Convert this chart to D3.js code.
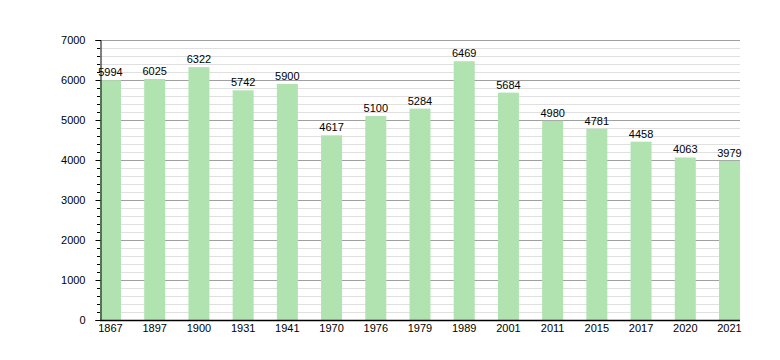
<!DOCTYPE html>
<html><head><meta charset="utf-8">
<script src="https://cdn.jsdelivr.net/npm/d3@7"></script>
<style>body{margin:0;background:#fff}svg{display:block}text{font-family:"Liberation Sans",Arial,sans-serif;font-size:11px;fill:#000}</style>
</head><body><svg id="c" width="780" height="360"></svg>
<script>
const years = ["1867","1897","1900","1931","1941","1970","1976","1979","1989","2001","2011","2015","2017","2020","2021"];
const population = [5994,6025,6322,5742,5900,4617,5100,5284,6469,5684,4980,4781,4458,4063,3979];
const yTicks = [0,1000,2000,3000,4000,5000,6000,7000];

const svg = d3.select("#c");
const L = 100, R = 740, T = 40, B = 320;
const barW = 21;
const x = d3.scaleLinear().domain([0, years.length - 1]).range([L + barW/2, R - barW/2]);
const y = d3.scaleLinear().domain([0, 7000]).range([B, T]);

const minor = d3.range(0, 7001, 200).filter(v => v % 1000 !== 0);
svg.append("g").selectAll("line").data(minor).join("line")
  .attr("x1", L).attr("x2", R).attr("y1", d => y(d) + 0.5).attr("y2", d => y(d) + 0.5)
  .attr("stroke", "#e0e0e0").attr("stroke-width", 1);
svg.append("g").selectAll("line").data(yTicks.filter(v => v > 0)).join("line")
  .attr("x1", L).attr("x2", R).attr("y1", d => y(d) + 0.5).attr("y2", d => y(d) + 0.5)
  .attr("stroke", "#a0a0a0").attr("stroke-width", 1);

svg.append("g").selectAll("rect").data(population).join("rect")
  .attr("x", (d, i) => x(i) - barW/2).attr("width", barW)
  .attr("y", d => y(d)).attr("height", d => B - y(d))
  .attr("fill", "#b0e3b0");

svg.append("g").selectAll("text").data(population).join("text")
  .attr("x", (d, i) => x(i)).attr("y", d => y(d) - 4)
  .attr("text-anchor", "middle").text(d => d);

// y axis
const ya = svg.append("g").attr("transform", `translate(${L + 0.5},0)`)
  .call(d3.axisLeft(y).tickValues(yTicks).tickSize(5).tickPadding(10).tickFormat(d3.format("d")));
ya.select(".domain").attr("stroke", "#000");
ya.selectAll("text").style("font-family", '"Liberation Sans",Arial,sans-serif').style("font-size", "11px");
svg.append("g").selectAll("line").data(minor).join("line")
  .attr("x1", L - 3).attr("x2", L).attr("y1", d => y(d) + 0.5).attr("y2", d => y(d) + 0.5)
  .attr("stroke", "#000");

// x axis
svg.append("line").attr("x1", L).attr("x2", R).attr("y1", B + 0.5).attr("y2", B + 0.5).attr("stroke", "#000").attr("stroke-width", 1.5);
svg.append("g").selectAll("text").data(years).join("text")
  .attr("x", (d, i) => x(i)).attr("y", B + 12)
  .attr("text-anchor", "middle").text(d => d);
</script></body></html>
